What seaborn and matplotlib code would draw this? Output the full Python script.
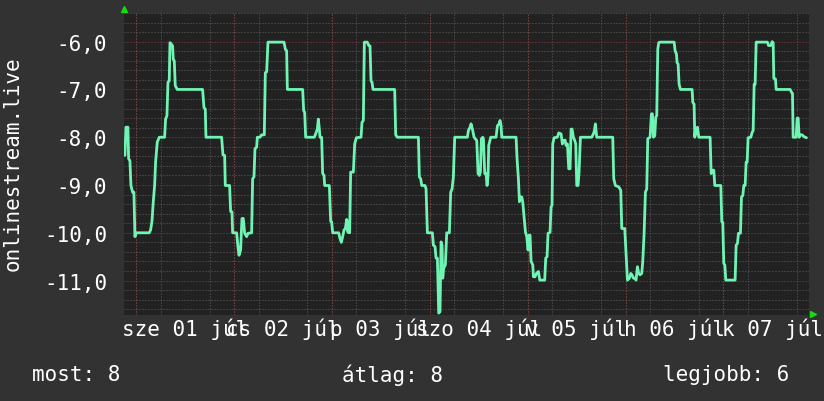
import matplotlib
matplotlib.use("Agg")
import matplotlib.pyplot as plt
import seaborn as sns
import numpy as np
import pandas as pd

# ---- data (hours from Jul 1 00:00, value) ----
hours = [
    -2.77, -2.53, -2.04, -1.87, -1.55, -1.30, -0.89, -0.57, -0.32, -0.07, 0.25, 3.20, 3.52, 3.85, 4.18, 4.51,
    4.75, 5.16, 5.65, 6.96, 7.20, 7.53, 7.78, 8.10, 8.27, 8.68, 8.92, 9.08, 9.33, 9.57, 10.07, 16.28, 16.61,
    16.94, 17.10, 20.94, 21.27, 21.68, 21.84, 22.90, 23.15, 23.48, 23.64, 24.62, 24.95, 25.20, 25.60, 25.93,
    26.26, 26.59, 27.08, 27.40, 28.30, 28.55, 28.88, 29.12, 29.53, 29.69,
    30.35, 30.76, 31.41, 31.66, 31.99, 32.31, 36.24, 36.57, 36.89, 37.06, 40.82, 41.06, 41.31, 41.55, 43.68,
    44.09, 44.42, 44.66, 44.91, 45.07, 45.48, 45.72, 46.05, 46.22, 47.36, 47.69, 47.93, 48.18, 49.65, 49.98,
    50.30, 50.63, 50.96, 51.29, 51.61, 51.94, 52.10, 52.35, 52.59, 53.25, 53.58, 53.98, 55.13, 55.37, 55.70,
    55.95, 56.68, 57.01, 57.34, 57.58, 57.83, 58.07, 63.39, 63.63, 64.04,
    69.20, 69.44, 69.77, 70.02, 70.83, 71.08, 71.41, 72.63, 72.88, 73.29, 73.53, 73.86, 74.19, 74.51, 74.76,
    75.00, 75.17, 75.41, 75.82, 76.15, 76.80, 77.13, 77.46, 77.78, 78.11, 81.22, 81.46, 81.87, 82.12, 82.45,
    82.86, 83.51, 83.84, 84.16, 84.41, 84.65, 84.98, 85.15, 85.47, 85.80, 86.04, 86.29, 86.45, 86.94, 88.25,
    88.58, 88.99, 89.23, 89.48, 89.64, 93.16, 93.40, 93.73, 93.98, 94.30, 94.55, 94.79, 95.12, 95.45, 95.78,
    96.10, 96.35, 96.59, 96.84, 97.25, 97.41, 97.82, 98.15, 98.64, 98.97,
    100.18, 100.43, 100.76, 101.00, 101.49, 101.74, 101.98, 102.15, 102.47, 103.29, 103.62, 104.19, 104.52,
    104.85, 105.17, 105.42, 105.75, 106.07, 106.40, 106.65, 106.89, 107.22, 107.55, 107.79, 108.04, 108.36,
    108.61, 108.94, 111.72, 112.12, 112.37, 112.61, 112.94, 116.87, 117.11, 117.52, 118.34, 118.83, 119.08,
    119.81, 120.14, 120.47, 120.96, 121.28, 121.61, 121.94, 122.27, 122.59, 122.92, 123.25, 123.57, 123.98,
    124.23, 124.56, 124.88, 125.21, 125.46, 126.03, 126.35, 126.60, 126.85, 127.17, 127.42, 127.66, 127.91,
    128.15, 128.48, 131.92, 132.16, 132.49, 132.65, 132.90, 133.14, 133.47,
    136.33, 136.50, 136.82, 136.99, 137.15, 137.40, 137.64, 137.97, 140.75, 141.00, 141.32, 141.65, 141.90,
    143.37, 143.61, 143.86, 144.10, 144.35, 144.59, 146.88, 147.13, 147.46, 147.70, 148.19, 148.44, 148.77,
    149.01, 149.34, 149.58, 149.83, 150.07, 150.73, 151.05, 151.30, 151.55, 151.79, 152.04, 154.82, 155.06,
    155.63, 155.96, 156.21, 156.37, 156.78, 156.94, 160.38, 160.70, 160.95, 161.11, 161.85, 162.09, 162.34,
    162.58, 162.91, 163.32, 163.65, 164.06, 164.38,
]
values = [
    -8.38, -7.79, -7.79, -8.45, -8.49, -9.01, -9.15, -9.15, -10.08, -10.01, -10.0, -10.0, -9.94, -9.77, -9.35, -9.01,
    -8.52, -8.10, -8.0, -8.0, -7.62, -7.55, -6.85, -6.82, -6.02, -6.06, -6.09, -6.37, -6.40, -6.92, -7.0, -7.0, -7.38,
    -7.41, -8.0, -8.0, -8.37, -8.38, -9.01, -9.01, -9.55, -9.56, -10.0, -10.0, -10.29, -10.47, -10.36, -9.70,
    -9.70, -10.01, -10.08, -10.01, -10.0, -8.87, -8.83, -8.24, -8.21, -8.0,
    -8.0, -7.95, -7.95, -6.65, -6.63, -6.01, -6.01, -6.16, -6.19, -7.0, -7.0, -7.44, -7.48, -8.0, -8.0,
    -7.91, -7.83, -7.62, -7.83, -8.0, -8.0, -8.76, -8.80, -9.01, -9.01, -9.76, -9.77, -10.0, -10.0, -10.12,
    -10.20, -10.08, -9.94, -9.91, -9.72, -9.99, -9.77, -10.0, -8.73, -8.73, -8.14, -8.01, -8.0, -7.69, -7.65,
    -6.01, -6.01, -6.08, -6.09, -6.82, -6.85, -7.0, -7.0, -7.95, -8.0,
    -8.0, -8.83, -8.87, -9.01, -9.01, -9.08, -10.0, -10.0, -10.26, -10.29, -10.53, -10.53, -11.68, -11.65, -10.19,
    -10.26, -10.95, -10.74, -10.67, -10.0, -10.0, -9.15, -9.08, -8.83, -8.0, -8.0, -7.86, -7.79, -7.72, -7.83,
    -8.0, -8.07, -8.76, -8.80, -8.73, -8.03, -8.0, -8.03, -8.76, -8.76, -9.01, -8.80, -8.17, -8.0, -8.0,
    -7.76, -7.72, -7.65, -7.76, -8.0, -8.0, -8.45, -8.87, -9.35, -9.25, -9.25, -9.35, -9.67, -9.98, -10.08,
    -10.36, -10.05, -10.05, -10.60, -10.67, -10.92, -10.92, -10.85, -10.81, -10.99,
    -10.99, -10.53, -10.50, -10.01, -9.99, -9.46, -9.42, -8.14, -8.01, -8.0, -7.91, -7.93, -8.14,
    -8.07, -8.06, -8.17, -8.14, -8.66, -8.66, -7.83, -7.83, -8.0, -8.07, -8.14, -9.01, -9.01,
    -8.73, -8.0, -8.0, -7.93, -7.86, -7.72, -8.0, -8.0, -8.87, -9.01, -9.04, -9.11, -9.91,
    -9.91, -10.47, -10.99, -10.95, -10.85, -10.88, -10.95, -10.95, -10.99, -10.71, -10.85, -10.88, -10.85,
    -10.60, -10.01, -9.15, -9.08, -8.03, -8.0, -7.51, -7.51, -8.0, -7.97, -7.58, -7.55, -6.16,
    -6.02, -6.01, -6.01, -6.19, -6.26, -6.44, -6.47, -6.89, -7.0,
    -7.0, -7.27, -7.31, -8.0, -7.86, -7.93, -7.79, -8.0, -8.0, -8.76, -8.69, -8.69, -9.01,
    -9.01, -9.77, -9.78, -10.64, -10.67, -10.99, -10.99, -10.26, -10.22, -10.01, -10.01, -9.25, -9.22,
    -9.01, -9.01, -8.52, -8.52, -8.01, -8.0, -7.90, -7.86, -6.89, -6.89, -6.01, -6.01, -6.08,
    -6.08, -6.0, -6.02, -6.77, -6.78, -7.0, -7.0, -7.06, -7.08, -8.0, -8.0, -7.60, -7.60,
    -8.0, -7.95, -7.95, -7.98, -8.0, -8.01,
]
day_labels = ["sze 01 júl", "cs 02 júl", "p 03 júl", "szo 04 júl", "v 05 júl", "h 06 júl", "k 07 júl"]
day_starts = [0, 24, 48, 72, 96, 120, 144]
y_ticks = [-11, -10, -9, -8, -7, -6]
y_label = "onlinestream.live"
stats = ["most: 8", "átlag: 8", "legjobb: 6"]

BG = "#323232"
PLOT_BG = "#222222"
LINE = "#70f4b4"
MINOR = "#5e5e5e"
MAJOR = "#903c3c"
ARROW = "#11dd11"

sns.set_theme(style="dark")
plt.rcParams["font.family"] = ["DejaVu Sans Mono"]
FS = 15

fig = plt.figure(figsize=(8.24, 4.02), dpi=100, facecolor=BG)
ax = fig.add_axes([124 / 824, 1 - 316 / 402, 685 / 824, 302 / 402])
ax.set_facecolor(PLOT_BG)
for s in ax.spines.values():
    s.set_visible(False)

df = pd.DataFrame({"h": hours, "v": values})
sns.lineplot(data=df, x="h", y="v", ax=ax, color=LINE, lw=2.0, sort=False,
             estimator=None, zorder=5)

ax.set_xlim(-3, 165)
ax.set_ylim(-11.72, -5.40)

# grid
ax.set_xticks(np.arange(-0, 166, 6), minor=True)
ax.set_yticks(np.arange(-11.6, -5.39, 0.2), minor=True)
ax.grid(True, which="minor", color=MINOR, linestyle=(0, (1, 2)), lw=0.72, zorder=1)
ax.grid(False, which="major")
for d in day_starts:
    ax.axvline(d, color=MAJOR, linestyle=(0, (1, 2)), lw=0.72, zorder=2)
for t in y_ticks:
    ax.axhline(t, color=MAJOR, linestyle=(0, (1, 2)), lw=0.72, zorder=2)

ax.set_xticks([d + 12 for d in day_starts], day_labels)
ax.set_yticks(y_ticks, [f"{t:.1f}".replace(".", ",") for t in y_ticks])
ax.tick_params(which="both", length=0, colors="white", labelsize=FS)
ax.tick_params(axis="y", pad=12)
ax.tick_params(axis="x", pad=2)
ax.set_xlabel("")
ax.set_ylabel("")

# axis arrows
ax.plot([0], [1.013], marker="^", color=ARROW, ms=5, transform=ax.transAxes, clip_on=False)
ax.plot([1.006], [0.004], marker=">", color=ARROW, ms=5, transform=ax.transAxes, clip_on=False)

fig.text(13 / 824, 1 - 164 / 402, y_label, rotation=90, ha="center", va="center",
         color="white", fontsize=FS)
for txt, x in zip(stats, [32, 342, 663]):
    fig.text(x / 824, 1 - 375 / 402, txt, ha="left", va="center", color="white", fontsize=FS)

fig.savefig("out.png", dpi=100, facecolor=BG)
